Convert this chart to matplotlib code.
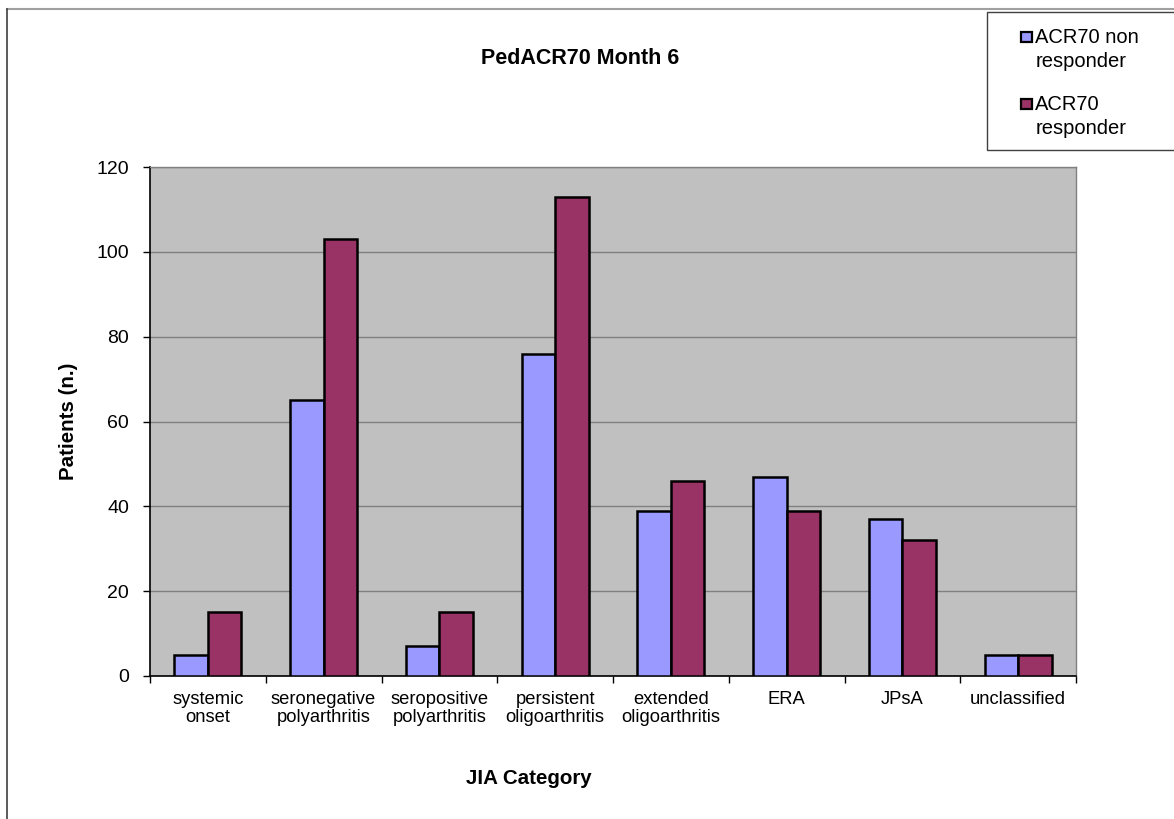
import matplotlib
matplotlib.use("Agg")
import matplotlib.pyplot as plt
import numpy as np
from matplotlib.lines import Line2D

categories = ["systemic\nonset", "seronegative\npolyarthritis", "seropositive\npolyarthritis",
              "persistent\noligoarthritis", "extended\noligoarthritis", "ERA", "JPsA", "unclassified"]
non_responder = [5, 65, 7, 76, 39, 47, 37, 5]
responder = [15, 103, 15, 113, 46, 39, 32, 5]
series_names = ["ACR70 non\nresponder", "ACR70\nresponder"]
yticks = [0, 20, 40, 60, 80, 100, 120]

W, H = 1174, 819
fig = plt.figure(figsize=(W / 100, H / 100), dpi=100)
plt.rcParams["font.family"] = ["Liberation Sans", "DejaVu Sans"]

# plot area in pixel coordinates
x0, x1, y0, y1 = 150, 1076, 167, 676
ax = fig.add_axes([x0 / W, 1 - y1 / H, (x1 - x0) / W, (y1 - y0) / H])
ax.set_facecolor("#C0C0C0")

x = np.arange(len(categories))
bw = 0.29
ax.bar(x - bw / 2, non_responder, bw, color="#9999FF", edgecolor="black", linewidth=1.8, zorder=3)
ax.bar(x + bw / 2, responder, bw, color="#993366", edgecolor="black", linewidth=1.8, zorder=3)

ax.set_xlim(-0.5, len(categories) - 0.5)
ax.set_ylim(0, 120)
ax.set_yticks(yticks)
ax.yaxis.grid(True, color="#808080", linewidth=1.0, zorder=1)
ax.set_axisbelow(True)

ax.set_xticks(x)
ax.set_xticklabels(categories, fontsize=13.2, linespacing=1.05)
ax.set_xticks(np.arange(-0.5, len(categories)), minor=True)
ax.tick_params(axis="x", which="major", length=0, pad=11)
ax.tick_params(axis="x", which="minor", length=5, width=1, color="black", direction="out")
ax.tick_params(axis="y", length=5, width=1, labelsize=14, pad=10)

for s in ["top", "right"]:
    ax.spines[s].set_color("#808080")
    ax.spines[s].set_linewidth(1.0)
for s in ["left", "bottom"]:
    ax.spines[s].set_color("black")
    ax.spines[s].set_linewidth(1.2)

fig.text(580 / W, 1 - 59 / H, "PedACR70 Month 6", ha="center", va="center",
         fontsize=15.5, fontweight="bold")
fig.text(68 / W, 1 - 421 / H, "Patients (n.)", ha="center", va="center",
         rotation=90, fontsize=14.8, fontweight="bold")
fig.text(529 / W, 1 - 778 / H, "JIA Category", ha="center", va="center",
         fontsize=14.8, fontweight="bold")

# outer chart frame
fig.add_artist(Line2D([7 / W, 1], [1 - 9 / H, 1 - 9 / H], color="#A0A0A0", linewidth=1.5))
fig.add_artist(Line2D([7 / W, 7 / W], [1 - 9 / H, 0], color="#404040", linewidth=1.2))

# legend box (runs off the right edge)
lx0, ly0, ly1 = 987, 12, 150
box = plt.Rectangle((lx0 / W, 1 - ly1 / H), (W + 10 - lx0) / W, (ly1 - ly0) / H,
                    transform=fig.transFigure, facecolor="white", edgecolor="#404040",
                    linewidth=1.0)
fig.add_artist(box)
legend_colors = ["#9999FF", "#993366"]
for i, (name, col) in enumerate(zip(series_names, legend_colors)):
    cy = 37 + i * 67
    sq = plt.Rectangle((1021 / W, 1 - (cy + 5) / H), 11 / W, 10 / H, transform=fig.transFigure,
                       facecolor=col, edgecolor="black", linewidth=1.6)
    fig.add_artist(sq)
    for j, line in enumerate(name.split("\n")):
        fig.text((1035 + j) / W, 1 - (cy + 6 + j * 24) / H, line, ha="left", va="baseline",
                 fontsize=14.5)

fig.savefig("out.png", dpi=100, facecolor="white")
